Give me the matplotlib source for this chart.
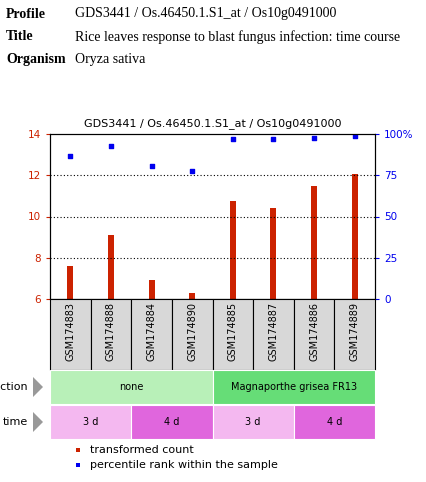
import matplotlib
matplotlib.use("Agg")
import matplotlib.pyplot as plt
from matplotlib.patches import Rectangle, Polygon

samples = ["GSM174883","GSM174888","GSM174884","GSM174890","GSM174885","GSM174887","GSM174886","GSM174889"]
counts = [7.6, 9.1, 6.9, 6.3, 10.75, 10.4, 11.5, 12.05]
percentiles = [86.7, 92.7, 80.6, 77.6, 97.0, 97.0, 97.6, 98.8]
infection = [("none", 4, "#b8f0b8"), ("Magnaporthe grisea FR13", 4, "#66dd77")]
time_groups = [("3 d", 2, "#f4b8f0"), ("4 d", 2, "#e066dd"), ("3 d", 2, "#f4b8f0"), ("4 d", 2, "#e066dd")]

W, H = 426, 482
fig = plt.figure(figsize=(W/100, H/100), dpi=100)
def fx(p): return p / W
def fy(p): return 1 - p / H

# header
for y, lab, val in [(14, "Profile", "GDS3441 / Os.46450.1.S1_at / Os10g0491000"),
                    (37, "Title", "Rice leaves response to blast fungus infection: time course"),
                    (60, "Organism", "Oryza sativa")]:
    fig.text(fx(6), fy(y), lab, family="Liberation Serif", weight="bold", fontsize=10, va="center")
    fig.text(fx(75), fy(y), val, family="Liberation Serif", fontsize=10, va="center")

x0, x1, ytop, ybot = 50, 375, 134, 299
ax = fig.add_axes([fx(x0), fy(ybot), (x1-x0)/W, (ybot-ytop)/H])
xs = range(len(samples))
ax.bar(xs, [c-6 for c in counts], bottom=6, width=0.15, color="#cc2200")
ax.set_xlim(-0.5, 7.5); ax.set_ylim(6, 14)
ax.set_yticks([6, 8, 10, 12, 14])
ax.tick_params(axis="y", colors="#cc2200", labelsize=7.5, length=3)
ax.set_xticks([])
for y in [8, 10, 12]:
    ax.axhline(y, color="black", ls=(0, (1, 2)), lw=0.8)
ax.set_title("GDS3441 / Os.46450.1.S1_at / Os10g0491000", fontsize=8, pad=6)
ax2 = ax.twinx()
ax2.scatter(xs, percentiles, marker="s", s=12, color="#0000ee")
ax2.set_ylim(0, 100)
ax2.set_yticks([0, 25, 50, 75, 100])
ax2.set_yticklabels(["0", "25", "50", "75", "100%"])
ax2.tick_params(axis="y", colors="#0000ee", labelsize=7.5, length=3)
ax2.set_xlim(-0.5, 7.5)

cw = (x1-x0)/8
for i, s in enumerate(samples):
    bx = x0 + i*cw
    fig.patches.append(Rectangle((fx(bx), fy(370)), cw/W, 71/H, transform=fig.transFigure,
                                 facecolor="#d8d8d8", edgecolor="black", lw=0.8))
    fig.text(fx(bx+cw/2), fy(302), s, rotation=90, ha="center", va="top", fontsize=7)

def row(ytop_, ybot_, groups, label):
    pos = x0
    for name, n, col in groups:
        w = n*cw
        fig.patches.append(Rectangle((fx(pos), fy(ybot_)), w/W, (ybot_-ytop_)/H, transform=fig.transFigure,
                                     facecolor=col, edgecolor="white", lw=0.8))
        fig.text(fx(pos+w/2), fy((ytop_+ybot_)/2), name, ha="center", va="center", fontsize=7)
        pos += w
    ym = (ytop_+ybot_)/2
    fig.text(fx(55), fy(ym), label, ha="right", va="center", fontsize=8) if False else \
        fig.text(fx(28), fy(ym), label, ha="right", va="center", fontsize=8)
    fig.patches.append(Polygon([(fx(33), fy(ym-10)), (fx(33), fy(ym+10)), (fx(43), fy(ym))],
                               transform=fig.transFigure, facecolor="#999999", edgecolor="none"))

row(370, 404, infection, "infection")
row(405, 439, time_groups, "time")

fig.patches.append(Rectangle((fx(76), fy(452)), 4/W, 4/H, transform=fig.transFigure, facecolor="#cc2200"))
fig.text(fx(90), fy(450), "transformed count", fontsize=8, va="center")
fig.patches.append(Rectangle((fx(76), fy(467)), 4/W, 4/H, transform=fig.transFigure, facecolor="#0000ee"))
fig.text(fx(90), fy(465), "percentile rank within the sample", fontsize=8, va="center")

fig.savefig("out.png", dpi=100)
